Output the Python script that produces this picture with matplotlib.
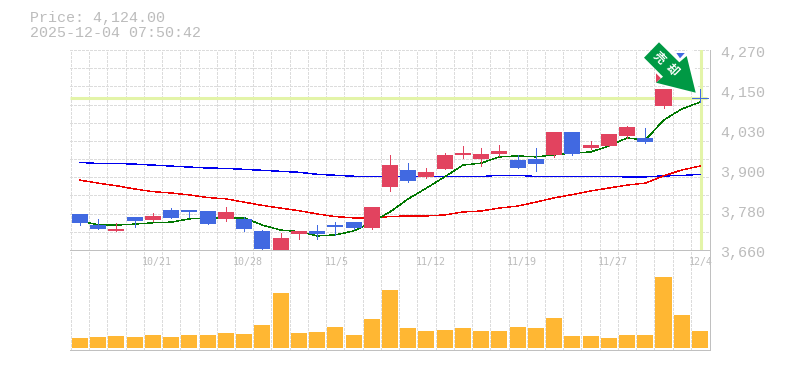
import matplotlib

matplotlib.use("Agg")
import matplotlib.pyplot as plt
from matplotlib.patches import Polygon, Rectangle

# values
dates = ["10/21", "10/28", "11/5", "11/12", "11/19", "11/27", "12/4"]
date_idx = [4, 9, 14, 19, 24, 29, 34]
price_ticks = [4270, 4150, 4030, 3900, 3780, 3660]
last_price = 4124

opens = [3770, 3736, 3718, 3761, 3751, 3782, 3782, 3779, 3755, 3755, 3718, 3660, 3709, 3718, 3736, 3745,
         3727, 3852, 3904, 3883, 3907, 3950, 3938, 3953, 3934, 3938, 3950, 4020, 3971, 3977, 4008, 4002,
         4099, 4261, 4124]
closes = [3743, 3724, 3724, 3748, 3764, 3758, 3776, 3739, 3776, 3724, 3663, 3697, 3718, 3709, 3730, 3727,
          3791, 3919, 3870, 3898, 3950, 3956, 3953, 3962, 3910, 3922, 4020, 3953, 3980, 4014, 4035, 3989,
          4151, 4178, 4124]
highs = [3770, 3755, 3742, 3761, 3773, 3788, 3782, 3779, 3791, 3761, 3721, 3712, 3718, 3736, 3745, 3745,
         3791, 3950, 3925, 3910, 3956, 3977, 3971, 3980, 3950, 3971, 4020, 4020, 3992, 4014, 4038, 4032,
         4151, 4261, 4151]
lows = [3737, 3724, 3718, 3731, 3748, 3758, 3761, 3739, 3748, 3718, 3663, 3657, 3694, 3694, 3706, 3724,
        3724, 3840, 3867, 3880, 3907, 3941, 3916, 3947, 3910, 3901, 3944, 3950, 3968, 3977, 4002, 3986,
        4093, 4178, 4111]
volume = [10, 11, 12, 11, 13, 11, 13, 13, 15, 14, 23, 55, 15, 16, 21, 13, 29, 58,
          20, 17, 18, 20, 17, 17, 21, 20, 30, 12, 12, 10, 13, 13, 71, 33, 17]
ma_green = [3748, 3737, 3736, 3739, 3743, 3745, 3755, 3758, 3758, 3758, 3736, 3721, 3716, 3703, 3706, 3718,
            3745, 3776, 3816, 3849, 3883, 3919, 3925, 3944, 3947, 3944, 3950, 3956, 3959, 3977, 4002, 3995,
            4056, 4090, 4111]
ma_red = [3873, 3864, 3856, 3846, 3838, 3834, 3828, 3820, 3816, 3806, 3796, 3788, 3780, 3770, 3762, 3758,
          3758, 3762, 3764, 3764, 3767, 3776, 3779, 3788, 3794, 3806, 3819, 3829, 3840, 3849, 3858, 3864,
          3886, 3904, 3916]
ma_blue = [3927, 3924, 3924, 3922, 3919, 3916, 3913, 3910, 3909, 3906, 3903, 3900, 3897, 3891, 3888, 3885,
           3884, 3884, 3884, 3884, 3884, 3884, 3884, 3888, 3888, 3884, 3884, 3884, 3884, 3884, 3883, 3883,
           3886, 3887, 3891]

UP = "#e2435f"
DOWN = "#4169e1"
ORANGE = "#ffb733"
GRID = "#dcdcdc"
SPINE = "#c0c0c0"
TEXT = "#bcbcbc"
HILITE = "#e3f4a8"
ARROW = "#009944"
DASH = (0, (2.7, 1.6))
THIN = 0.7  # one pixel when not antialiased
MA_LW = 0.3  # aliased slanted lines take every pixel they touch

W, H = 785, 370
fig = plt.figure(figsize=(W / 100, H / 100), dpi=100, facecolor="white")
mono = ["Liberation Mono", "DejaVu Sans Mono"]


def px(x, y):
    return x / W, 1 - y / H


price = fig.add_axes([70 / W, 1 - 250 / H, 640 / W, 200 / H])
vol = fig.add_axes([70 / W, 1 - 350 / H, 640 / W, 100 / H])

n = len(opens)
step = 18.235
x_lo = -10 / step
x_hi = x_lo + 640 / step
xs = list(range(n))

for ax in (price, vol):
    ax.set_xlim(x_lo, x_hi)
    for s in ax.spines.values():
        s.set_visible(False)
    ax.set_yticks([])
    ax.set_xticks([])
    # dashed grid sits between the candles
    for i in range(n):
        ax.plot([i - 0.5, i - 0.5], [0, 1], transform=ax.get_xaxis_transform(),
                color=GRID, lw=THIN, ls=DASH, zorder=1, antialiased=False)

# ---- price pane ----
price.set_ylim(3660, 4270)
for k in range(12):
    price.axhline(3660 + k * 610 / 11, color=GRID, lw=THIN, ls=DASH, zorder=1, antialiased=False, clip_on=False)

price.plot([x_lo, 34.4], [last_price, last_price], color=HILITE, lw=2.2, zorder=2, solid_capstyle="butt")
price.axvline(n - 1 + 0.03, color=HILITE, lw=2.2, zorder=2)

price.plot(xs, ma_blue, color="#0000ee", lw=MA_LW, zorder=3, antialiased=False, snap=False)
price.plot(xs, ma_red, color="#ee0000", lw=MA_LW, zorder=3, antialiased=False, snap=False)
price.plot(xs, ma_green, color="#007700", lw=MA_LW, zorder=3, antialiased=False, snap=False)

for i in xs:
    c = UP if closes[i] > opens[i] else DOWN
    price.plot([i, i], [lows[i], highs[i]], color=c, lw=THIN, zorder=4, clip_on=False, antialiased=False)
    lo, hi = min(opens[i], closes[i]), max(opens[i], closes[i])
    if hi == lo:
        price.plot([i - 0.44, i + 0.44], [lo, lo], color=c, lw=THIN, zorder=4, clip_on=False, antialiased=False)
    else:
        price.add_patch(Rectangle((i - 0.44, lo), 0.88, hi - lo, facecolor=c, edgecolor="none",
                                  zorder=4, clip_on=False))

for k, t in enumerate(price_ticks):
    fig.text(*px(720, 53 + 40 * k), f"{t:,}", fontsize=10.8, family=mono, color=TEXT, va="center", ha="left")

# ---- volume pane ----
vol.set_ylim(-2, 98)
vol.bar(xs, volume, width=0.88, color=ORANGE, zorder=3)
for i, lab in zip(date_idx, dates):
    vol.text(i - 0.6, 0.88, lab, transform=vol.get_xaxis_transform(), fontsize=7.2,
             family="DejaVu Sans Mono", color=TEXT, ha="left", va="center", zorder=5, clip_on=False)

# pane frame: bottom of each pane and a right edge
for xa, ya, xb, yb in [(70, 250, 710, 250), (70, 350, 710, 350), (710, 50, 710, 350)]:
    (x0, y0), (x1, y1) = px(xa, ya), px(xb, yb)
    fig.add_artist(plt.Line2D([x0, x1], [y0, y1], color=SPINE, lw=THIN, antialiased=False))

# ---- signal arrow, pixel coords; the sprite has a white margin over the candles ----
margin_px = [(668, 41), (680, 58.3), (692, 45), (698, 93), (665, 88), (660, 60)]
arrow_px = [(659, 42.3), (644, 57.7), (663, 76.7), (656, 82.7), (695.7, 92.7),
            (686.7, 56), (679.3, 62.3)]
red_bit_px = [(656, 73.3), (661, 78.3), (656, 82.7)]
fig.add_artist(Polygon([px(*p) for p in margin_px], closed=True, facecolor="white",
                       edgecolor="none", transform=fig.transFigure, zorder=6))
fig.add_artist(Polygon([px(*p) for p in red_bit_px], closed=True, facecolor=UP,
                       edgecolor="none", transform=fig.transFigure, zorder=6))
fig.add_artist(Polygon([px(*p) for p in arrow_px], closed=True, facecolor=ARROW,
                       edgecolor="none", transform=fig.transFigure, zorder=7))
for ch, (cx, cy) in zip("売却", [(659, 58), (672, 70)]):
    fig.text(*px(cx, cy), ch, rotation=-45, rotation_mode="anchor", color="white",
             fontsize=8.5, fontweight="bold", family=["Noto Sans CJK JP", "DejaVu Sans"],
             ha="center", va="center", zorder=8)

# ---- header ----
fig.text(*px(30, 18), "Price: 4,124.00", fontsize=10.8, family=mono, color=TEXT, va="center")
fig.text(*px(30, 33), "2025-12-04 07:50:42", fontsize=10.8, family=mono, color=TEXT, va="center")

fig.savefig("out.png", dpi=100, facecolor="white")
